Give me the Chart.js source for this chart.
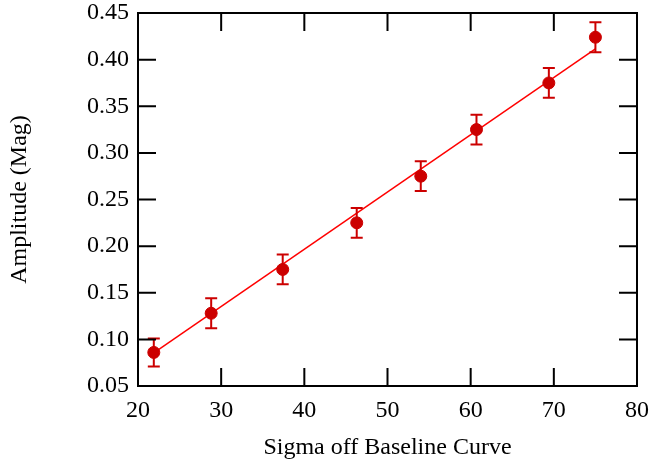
<!DOCTYPE html>
<html>
<head>
<meta charset="utf-8">
<script src="https://cdn.jsdelivr.net/npm/chart.js@4"></script>
<style>
  body { margin: 0; background: #ffffff; }
  #wrap { width: 652px; height: 461px; }
</style>
</head>
<body>
<div id="wrap"><canvas id="myChart" width="652" height="461"></canvas></div>
<script>
const sigmaValues = [21.9, 28.8, 37.4, 46.3, 54.0, 60.7, 69.4, 75.0];
const amplitudeValues = [0.086, 0.128, 0.175, 0.225, 0.275, 0.325, 0.375, 0.424];
const amplitudeErrors = [0.015, 0.016, 0.016, 0.016, 0.016, 0.016, 0.016, 0.016];

// straight line fit, end points
const fitX = [21.9, 75.0];
const fitY = [0.0856, 0.4115];

const xTicks = [20, 30, 40, 50, 60, 70, 80];
const yTicks = [0.05, 0.10, 0.15, 0.20, 0.25, 0.30, 0.35, 0.40, 0.45];

const pointColor = '#cc0000';
const fitColor = '#ff0000';
const serif = 'Liberation Serif';

// error bars drawn with the chart scales
const errorBarPlugin = {
    id: 'errorBars',
    afterDatasetsDraw(chart) {
        const ctx = chart.ctx;
        const xs = chart.scales.x;
        const ys = chart.scales.y;
        ctx.save();
        ctx.strokeStyle = pointColor;
        ctx.lineWidth = 2;
        for (let i = 0; i < sigmaValues.length; i++) {
            const px = xs.getPixelForValue(sigmaValues[i]);
            const top = ys.getPixelForValue(amplitudeValues[i] + amplitudeErrors[i]);
            const bot = ys.getPixelForValue(amplitudeValues[i] - amplitudeErrors[i]);
            ctx.beginPath();
            ctx.moveTo(px, top); ctx.lineTo(px, bot);
            ctx.moveTo(px - 6, top); ctx.lineTo(px + 6, top);
            ctx.moveTo(px - 6, bot); ctx.lineTo(px + 6, bot);
            ctx.stroke();
        }
        ctx.restore();
    }
};

// frame with inward ticks on all four sides
const framePlugin = {
    id: 'frame',
    afterDraw(chart) {
        const ctx = chart.ctx;
        const a = chart.chartArea;
        const xs = chart.scales.x;
        const ys = chart.scales.y;
        const len = 18;
        ctx.save();
        ctx.strokeStyle = '#000000';
        ctx.lineWidth = 2;
        ctx.strokeRect(a.left, a.top, a.right - a.left, a.bottom - a.top);
        ctx.beginPath();
        xTicks.forEach(v => {
            const px = xs.getPixelForValue(v);
            ctx.moveTo(px, a.bottom); ctx.lineTo(px, a.bottom - len);
            ctx.moveTo(px, a.top); ctx.lineTo(px, a.top + len);
        });
        yTicks.forEach(v => {
            const py = ys.getPixelForValue(v);
            ctx.moveTo(a.left, py); ctx.lineTo(a.left + len, py);
            ctx.moveTo(a.right, py); ctx.lineTo(a.right - len, py);
        });
        ctx.stroke();
        ctx.restore();
    }
};

const ctx = document.getElementById('myChart');

new Chart(ctx, {
    data: {
        datasets: [{
            type: 'line',
            label: 'Fit',
            data: fitX.map((x, i) => ({ x: x, y: fitY[i] })),
            borderColor: fitColor,
            borderWidth: 1.5,
            pointRadius: 0,
            fill: false,
            order: 2
        }, {
            type: 'scatter',
            label: 'Amplitude',
            data: sigmaValues.map((x, i) => ({ x: x, y: amplitudeValues[i] })),
            backgroundColor: pointColor,
            borderColor: pointColor,
            pointRadius: 6,
            order: 1
        }]
    },
    plugins: [errorBarPlugin, framePlugin],
    options: {
        responsive: false,
        animation: false,
        layout: { padding: { left: 0, right: 15, top: 13, bottom: 0 } },
        plugins: {
            legend: { display: false },
            tooltip: { enabled: false }
        },
        scales: {
            x: {
                type: 'linear',
                min: 20,
                max: 80,
                afterFit: (scale) => {
                    scale.height = 75;
                    scale.paddingLeft = 0;
                    scale.paddingRight = 0;
                },
                afterBuildTicks: (scale) => { scale.ticks = xTicks.map(v => ({ value: v })); },
                grid: { display: false, drawTicks: false },
                border: { display: false },
                ticks: {
                    padding: 10,
                    color: '#000000',
                    font: { family: serif, size: 24 }
                },
                title: {
                    display: true,
                    text: 'Sigma off Baseline Curve',
                    color: '#000000',
                    font: { family: serif, size: 24, lineHeight: 1 },
                    padding: { top: 0, bottom: 1 }
                }
            },
            y: {
                type: 'linear',
                min: 0.05,
                max: 0.45,
                afterFit: (scale) => {
                    scale.width = 138;
                    scale.paddingTop = 0;
                    scale.paddingBottom = 0;
                },
                afterBuildTicks: (scale) => { scale.ticks = yTicks.map(v => ({ value: v })); },
                grid: { display: false, drawTicks: false },
                border: { display: false },
                ticks: {
                    padding: 9,
                    color: '#000000',
                    font: { family: serif, size: 24 },
                    callback: (v) => Number(v).toFixed(2)
                },
                title: {
                    display: true,
                    text: 'Amplitude (Mag)',
                    color: '#000000',
                    font: { family: serif, size: 24, lineHeight: 1 },
                    padding: { top: 8, bottom: 0 }
                }
            }
        }
    }
});
</script>
</body>
</html>
